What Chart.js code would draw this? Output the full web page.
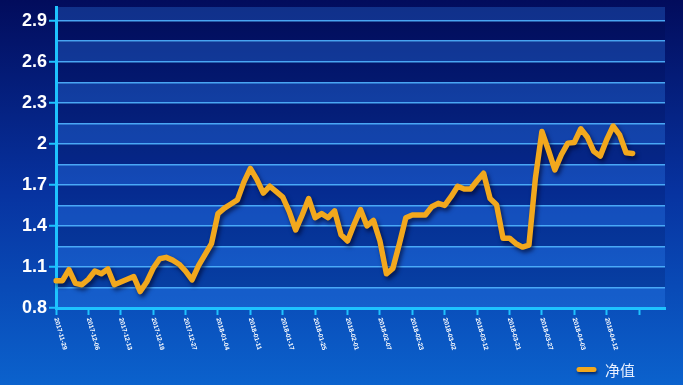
<!DOCTYPE html>
<html>
<head>
<meta charset="utf-8">
<script src="https://cdn.jsdelivr.net/npm/chart.js@4"></script>
<style>
  html, body { margin: 0; padding: 0; background: #0a3a9f; }
  #wrap { width: 683px; height: 385px; }
</style>
</head>
<body>
<div id="wrap"><canvas id="myChart" width="683" height="385"></canvas></div>
<script>
// tick labels, one every 5 points
const tickDates = [
  "2017-11-29", "2017-12-06", "2017-12-13", "2017-12-19", "2017-12-27",
  "2018-01-04", "2018-01-11", "2018-01-17", "2018-01-25", "2018-02-01",
  "2018-02-07", "2018-02-23", "2018-03-02", "2018-03-12", "2018-03-21",
  "2018-03-27", "2018-04-03", "2018-04-12",
];
const pointsPerTick = 5;
const categoryCount = 95;

const seriesName = "净值";
const navValues = [
  1.00, 1.00, 1.08, 0.98, 0.97, 1.01, 1.07, 1.05, 1.085, 0.97,
  0.99, 1.01, 1.03, 0.92, 0.99, 1.09, 1.16, 1.17, 1.15, 1.12,
  1.07, 1.005, 1.11, 1.19, 1.27, 1.49, 1.53, 1.56, 1.59, 1.72,
  1.82, 1.74, 1.64, 1.69, 1.65, 1.61, 1.505, 1.37, 1.48, 1.60,
  1.46, 1.49, 1.46, 1.51, 1.335, 1.29, 1.41, 1.52, 1.40, 1.44,
  1.29, 1.05, 1.09, 1.27, 1.46, 1.48, 1.48, 1.48, 1.54, 1.565,
  1.55, 1.615, 1.69, 1.67, 1.67, 1.73, 1.785, 1.60, 1.555, 1.31,
  1.31, 1.27, 1.245, 1.26, 1.75, 2.09, 1.955, 1.81, 1.92, 2.005,
  2.01, 2.11, 2.05, 1.945, 1.91, 2.03, 2.13, 2.065, 1.935, 1.93,
];

const yMin = 0.8;
const yMax = 3.0;
const yStep = 0.15;
const yTickCount = 15; // 0.8 .. 2.9

const lineColor = "#f2a81d";
const axisColor = "#1ec3ff";

const labels = Array.from({ length: categoryCount }, (_, i) =>
  i % pointsPerTick === 0 ? tickDates[i / pointsPerTick] || "" : ""
);

const backdrop = {
  id: "backdrop",
  beforeDraw(chart) {
    const { ctx, chartArea, width, height } = chart;
    const y = chart.scales.y;
    ctx.save();
    const g = ctx.createLinearGradient(0, 0, 0, height);
    g.addColorStop(0, "#020c5c");
    g.addColorStop(0.5, "#0733a0");
    g.addColorStop(1, "#0b62cd");
    ctx.fillStyle = g;
    ctx.fillRect(0, 0, width, height);

    // alternating bands between grid lines
    for (let k = 0; k < yTickCount; k++) {
      const v0 = yMin + k * yStep;
      const v1 = Math.min(v0 + yStep, yMax);
      const top = y.getPixelForValue(v1);
      const bot = y.getPixelForValue(v0);
      ctx.fillStyle = k % 2 === 0 ? "rgba(55,140,250,0.28)" : "rgba(0,8,60,0.16)";
      ctx.fillRect(chartArea.left, top, chartArea.right - chartArea.left, bot - top);
    }
    ctx.restore();
  },
  beforeDatasetsDraw(chart) {
    const ctx = chart.ctx;
    ctx.save();
    ctx.shadowColor = "rgba(0,5,40,0.65)";
    ctx.shadowBlur = 4;
    ctx.shadowOffsetX = 2;
    ctx.shadowOffsetY = 3;
  },
  afterDatasetsDraw(chart) {
    chart.ctx.restore();
  },
  afterDraw(chart) {
    const { ctx } = chart;
    const x = chart.scales.x;
    const baseY = chart.chartArea.bottom;
    ctx.save();
    // rotated date labels
    ctx.fillStyle = "#ffffff";
    ctx.font = "bold 6.5px Arial, 'Liberation Sans', sans-serif";
    ctx.textAlign = "left";
    ctx.textBaseline = "middle";
    labels.forEach((lab, i) => {
      if (!lab) return;
      const px = x.getPixelForValue(i);
      ctx.save();
      ctx.translate(px, baseY + 10);
      ctx.rotate((74 * Math.PI) / 180);
      ctx.fillText(lab, 0, 0);
      ctx.restore();
    });

    // legend
    ctx.save();
    ctx.shadowColor = "rgba(0,5,40,0.6)";
    ctx.shadowBlur = 3;
    ctx.shadowOffsetX = 1;
    ctx.shadowOffsetY = 2;
    ctx.strokeStyle = lineColor;
    ctx.lineWidth = 5;
    ctx.lineCap = "round";
    ctx.beginPath();
    ctx.moveTo(579, 369.5);
    ctx.lineTo(594, 369.5);
    ctx.stroke();
    ctx.restore();
    ctx.fillStyle = "#e8f0ff";
    ctx.font = "15px 'Noto Sans CJK SC', sans-serif";
    ctx.textBaseline = "middle";
    ctx.fillText(seriesName, 605, 370);
    ctx.restore();
  },
};

const config = {
  type: "line",
  data: {
    labels: labels,
    datasets: [
      {
        label: seriesName,
        data: navValues,
        borderColor: lineColor,
        backgroundColor: lineColor,
        borderWidth: 5.5,
        borderJoinStyle: "round",
        borderCapStyle: "round",
        pointRadius: 0,
        tension: 0,
        fill: false,
      },
    ],
  },
  options: {
    responsive: false,
    animation: false,
    layout: { padding: { left: 0, right: 18, top: 7, bottom: 0 } },
    plugins: {
      legend: { display: false },
      tooltip: { enabled: false },
    },
    scales: {
      x: {
        type: "category",
        offset: false,
        grid: {
          drawOnChartArea: false,
          drawTicks: true,
          tickLength: 7,
          tickColor: axisColor,
          tickWidth: 2,
        },
        border: { display: true, color: axisColor, width: 3 },
        ticks: {
          autoSkip: false,
          maxRotation: 0,
          minRotation: 0,
          padding: 0,
          color: "transparent",
          font: { size: 1 },
          callback: (v, i) => (i % pointsPerTick === 0 ? " " : null),
        },
        afterFit: (s) => {
          s.height = 77;
          s.paddingLeft = 0;
          s.paddingRight = 0;
        },
      },
      y: {
        min: yMin,
        max: yMax,
        grid: {
          color: "rgba(80,180,255,0.9)",
          lineWidth: 1.5,
          tickLength: 7,
          tickWidth: 2,
          tickColor: (ctx) => (ctx.index % 2 === 0 ? axisColor : "transparent"),
        },
        border: { display: true, color: axisColor, width: 3 },
        afterBuildTicks: (s) => {
          s.ticks = Array.from({ length: yTickCount }, (_, k) => ({
            value: Math.round((yMin + k * yStep) * 100) / 100,
          }));
        },
        ticks: {
          autoSkip: false,
          padding: 2,
          color: "#ffffff",
          font: { family: "Arial, 'Liberation Sans', sans-serif", size: 18, weight: "bold" },
          callback: (v, i) => (i % 2 === 0 ? String(+Number(v).toFixed(2)) : ""),
        },
        afterFit: (s) => {
          s.width = 56;
          s.paddingTop = 0;
          s.paddingBottom = 0;
        },
      },
    },
  },
  plugins: [backdrop],
};

const chart = new Chart(document.getElementById("myChart"), config);
</script>
</body>
</html>
